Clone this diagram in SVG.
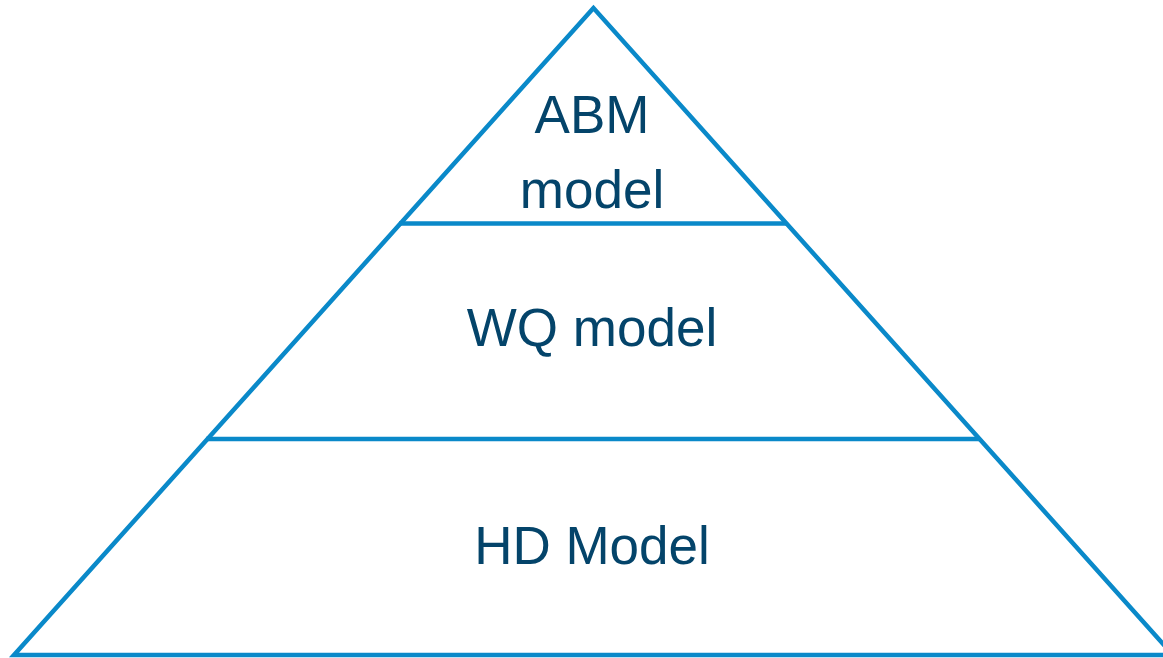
<svg xmlns="http://www.w3.org/2000/svg" width="1163" height="658" viewBox="0 0 1163 658">
<style>
.edge{fill:none;stroke:#0a89c9;stroke-width:4.5;stroke-linejoin:miter;stroke-linecap:butt}
.lbl{font-family:"Liberation Sans",Arial,sans-serif;font-size:53px;fill:#04446a;text-anchor:middle}
</style>
<rect width="1163" height="658" fill="#ffffff"/>
<g id="connectors">
<polygon class="edge" points="593.5,8 14,655 1173,655"/>
<line class="edge" x1="399" y1="223.5" x2="786" y2="223.5"/>
<line class="edge" x1="206" y1="439" x2="979" y2="439"/>
</g>
<g id="abm-model">
<text class="lbl" x="592" y="133">ABM</text>
<text class="lbl" x="592" y="208">model</text>
</g>
<g id="wq-model">
<text class="lbl" x="592" y="346">WQ model</text>
</g>
<g id="hd-model">
<text class="lbl" x="592" y="564">HD Model</text>
</g>
</svg>
